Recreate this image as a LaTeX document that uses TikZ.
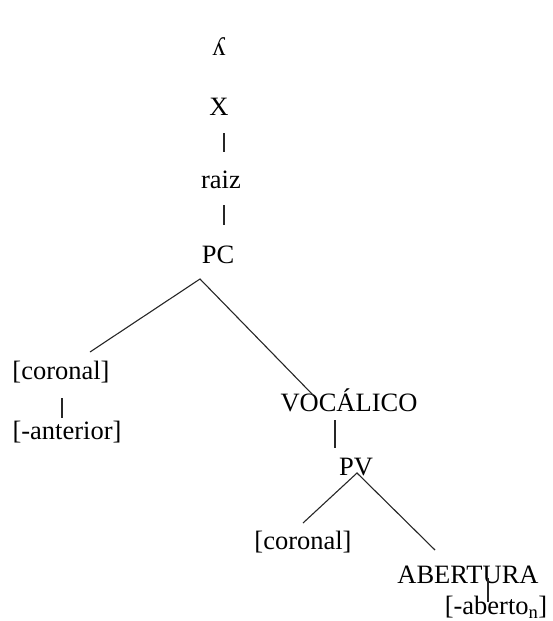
\documentclass[tikz,border=0pt]{standalone}
\usepackage{fontspec}
\setmainfont{Liberation Serif}
\begin{document}
\begin{tikzpicture}[x=1pt,y=-1pt,
  lbl/.style={inner sep=0pt,font=\fontsize{26.5}{30}\selectfont},
  edge/.style={line width=1.1pt,draw=black!85}]
\useasboundingbox (0,0) rectangle (553,621);
\node[lbl] (lam) at (219,47) {ʎ};
\node[lbl] (X) at (219,107) {X};
\node[lbl] (raiz) at (221,180) {raiz};
\node[lbl] (PC) at (218,255) {PC};
\node[lbl] (cor1) at (61,372) {[coronal]};
\node[lbl] (ant) at (67,432) {[-anterior]};
\node[lbl] (voc) at (349,400) {VOCÁLICO};
\node[lbl] (PV) at (356,467) {PV};
\node[lbl] (cor2) at (303,542) {[coronal]};
\node[lbl] (abert) at (468,575) {ABERTURA};
\node[lbl] (abto) at (496,607) {[-aberto\textsubscript{n}]};
\draw[edge] ([xshift=5pt,yshift=-26pt]X.center) -- ([xshift=3pt,yshift=28pt]raiz.center);
\draw[edge] ([xshift=3pt,yshift=-25pt]raiz.center) -- ([xshift=6pt,yshift=30pt]PC.center);
\draw[edge] ([xshift=29pt,yshift=20pt]cor1.center) -- ([xshift=-18pt,yshift=-24pt]PC.center) -- ([xshift=-36pt,yshift=5pt]voc.center);
\draw[edge] ([xshift=1pt,yshift=-26pt]cor1.center) -- ([xshift=-5pt,yshift=14pt]ant.center);
\draw[edge] ([xshift=-14pt,yshift=-20pt]voc.center) -- ([xshift=-21pt,yshift=19pt]PV.center);
\draw[edge] ([yshift=19pt]cor2.center) -- ([xshift=1pt,yshift=-6pt]PV.center) -- ([xshift=-33pt,yshift=25pt]abert.center);
\draw[edge] ([xshift=20pt,yshift=-3pt]abert.center) -- ([xshift=-8pt,yshift=5pt]abto.center);
\end{tikzpicture}
\end{document}
